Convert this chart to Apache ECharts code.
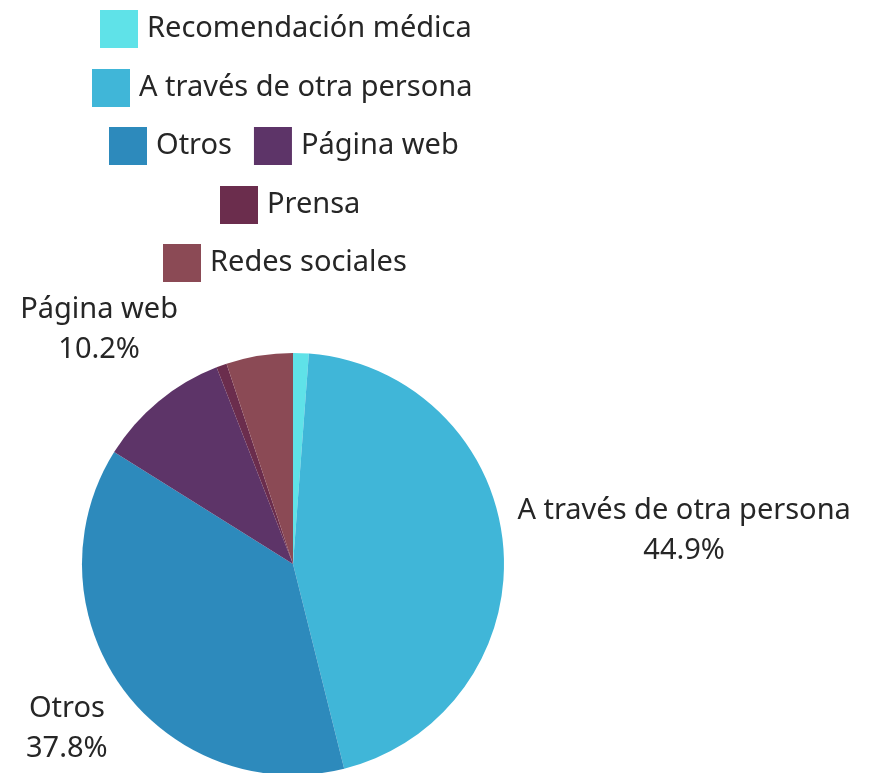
<!DOCTYPE html>
<html>
<head>
<meta charset="utf-8">
<script src="https://cdn.jsdelivr.net/npm/echarts@6/dist/echarts.min.js"></script>
<style>
  html, body { margin: 0; padding: 0; background: #fff; }
  #main { width: 877px; height: 773px; }
</style>
</head>
<body>
<div id="main"></div>
<script>
// datos del grafico
var names = ['Recomendación médica', 'A través de otra persona', 'Otros', 'Página web', 'Prensa', 'Redes sociales'];
var values = [1.2, 44.9, 37.8, 10.2, 0.8, 5.1];
var colors = ['#5fe2e8', '#40b6d8', '#2d8abc', '#5d3468', '#6b2d4d', '#8b4a55'];
// filas de la leyenda
var legendRows = [
    ['Recomendación médica'],
    ['A través de otra persona'],
    ['Otros', 'Página web'],
    ['Prensa'],
    ['Redes sociales']
];
var legendLeft = [100, 92, 109, 220, 163];
var legendTop = [10, 69, 127, 186, 244];

var cx = 293, cy = 564, R = 211, gap = 12;
var total = values.reduce(function (a, b) { return a + b; }, 0);
var font = 'Noto Sans';

function midAngle(i) {
    var s = 0;
    for (var j = 0; j < i; j++) s += values[j];
    return (s + values[i] / 2) / total * 2 * Math.PI;
}

var myChart = echarts.init(document.getElementById('main'));

var legends = [];
for (var k = 0; k < legendRows.length; k++) {
    legends.push({
        data: legendRows[k],
        left: legendLeft[k],
        top: legendTop[k],
        padding: 0,
        icon: 'rect',
        itemWidth: 38,
        itemHeight: 38,
        itemGap: 22,
        selectedMode: false,
        textStyle: { fontFamily: font, fontSize: 29, color: '#262626', padding: [0, 0, 0, 4] }
    });
}

var pieData = [];
for (var i = 0; i < names.length; i++) {
    pieData.push({ name: names[i], value: values[i], itemStyle: { color: colors[i] } });
}

option = {
    backgroundColor: '#fff',
    animation: false,
    legend: legends,
    series: [{
        type: 'pie',
        center: [cx, cy],
        radius: R,
        startAngle: 90,
        clockwise: true,
        avoidLabelOverlap: false,
        data: pieData,
        label: {
            show: true,
            position: 'outside',
            fontFamily: font,
            fontSize: 29,
            lineHeight: 40,
            color: '#262626',
            formatter: function (p) {
                if (p.value < 10) return '';
                return p.name + '\n' + p.value.toFixed(1) + '%';
            }
        },
        labelLine: { show: false },
        labelLayout: function (p) {
            var a = midAngle(p.dataIndex);
            var ux = Math.sin(a), uy = -Math.cos(a);
            var hw = p.labelRect.width / 2, hh = p.labelRect.height / 2;
            var d = R + gap + hw * Math.abs(ux) + hh * Math.abs(uy);
            return { x: cx + d * ux, y: cy + d * uy, align: 'center', verticalAlign: 'middle' };
        }
    }]
};

myChart.setOption(option);
</script>
</body>
</html>
